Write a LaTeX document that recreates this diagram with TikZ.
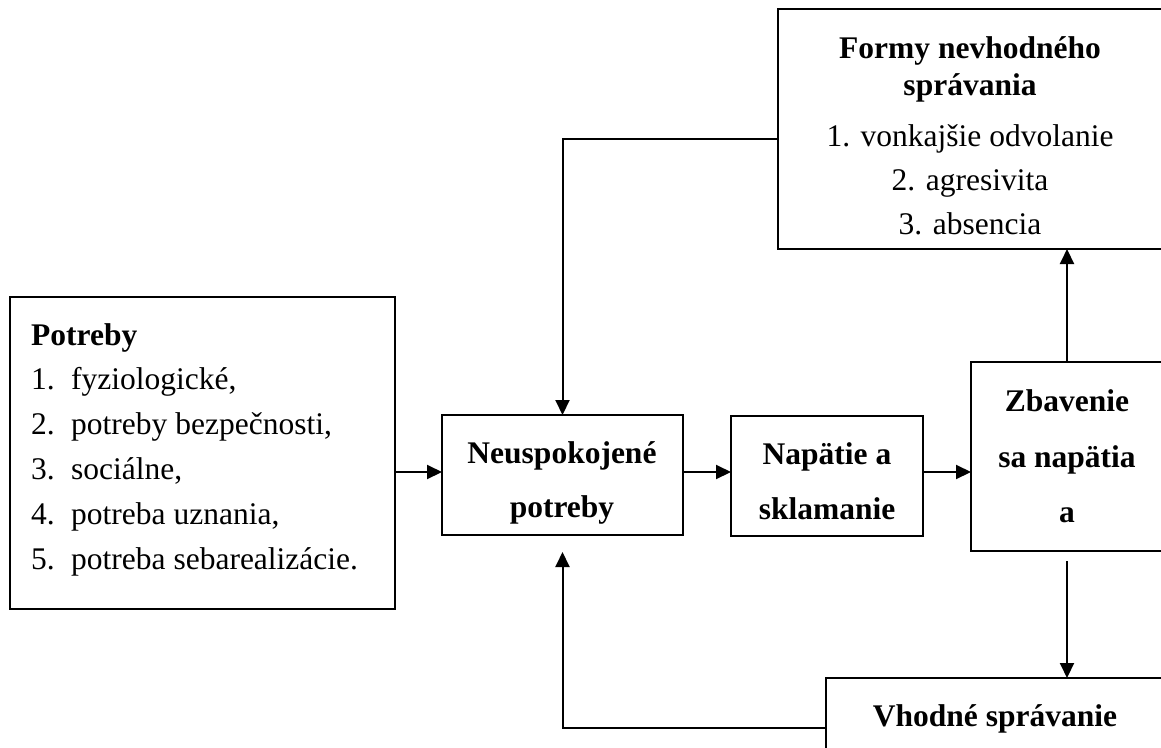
\documentclass[tikz,border=0pt]{standalone}
\usepackage{fontspec}
\setmainfont{Liberation Serif}
\usetikzlibrary{arrows.meta}
\begin{document}
\begin{tikzpicture}[x=1pt,y=-1pt,
  box/.style={draw, line width=2pt, anchor=north west, inner sep=0pt, outer sep=0pt},
  lbl/.style={anchor=base, inner sep=0pt, font=\fontsize{31.5}{38}\selectfont},
  hd/.style={anchor=base, inner sep=0pt, font=\fontsize{31.5}{38}\selectfont\bfseries},
  arr/.style={line width=2pt, -{Triangle[length=15pt,width=14pt]}}]
\useasboundingbox (0,0) rectangle (1161,747);
\clip (0,0) rectangle (1161,747);

% boxes
\node[box, minimum width=385pt, minimum height=312pt] (pot)   at (10,297)  {};
\node[box, minimum width=241pt, minimum height=120pt] (neusp) at (442,415) {};
\node[box, minimum width=192pt, minimum height=120pt] (nap)   at (731,416) {};
\node[box, minimum width=192pt, minimum height=189pt] (zb)    at (971,362) {};
\node[box, minimum width=420pt, minimum height=240pt] (formy) at (778,9)   {};
\node[box, minimum width=360pt, minimum height=120pt] (vh)    at (826,678) {};

% needs
\node[hd, anchor=base west] (pothd) at (31,345) {Potreby};
\foreach \i/\t/\y in {1/{fyziologické,}/389, 2/{potreby bezpečnosti,}/434, 3/{sociálne,}/479,
                      4/{potreba uznania,}/524, 5/{potreba sebarealizácie.}/569}{
  \node[lbl, anchor=base west] (pn\i) at (31,\y) {\i.};
  \node[lbl, anchor=base west] (pt\i) at (71,\y) {\t};
}

% unmet needs
\node[hd] (neusp1) at (562,463) {Neuspokojené};
\node[hd] (neusp2) at (562,517) {potreby};

% tension
\node[hd] (nap1) at (827,464) {Napätie a};
\node[hd] (nap2) at (827,519) {sklamanie};

% relief
\node[hd] (zb1) at (1067,411) {Zbavenie};
\node[hd] (zb2) at (1067,467) {sa napätia};
\node[hd] (zb3) at (1067,522) {a};

% inappropriate behaviour
\node[hd]  (fo1) at (970,58)  {Formy nevhodného};
\node[hd]  (fo2) at (970,95)  {správania};
\node[lbl] (fo3) at (970,146) {1. vonkajšie odvolanie};
\node[lbl] (fo4) at (970,190) {2. agresivita};
\node[lbl] (fo5) at (970,234) {3. absencia};

% appropriate behaviour
\node[hd] (vh1) at (995,726) {Vhodné správanie};

% connectors
\coordinate (row) at (0,472);
\draw[arr] (pot.east |- row) -- (neusp.west |- row);
\draw[arr] (neusp.east |- row) -- (nap.west |- row);
\draw[arr] (nap.east |- row) -- (zb.west |- row);
\draw[arr] (zb.north) -- (zb.north |- formy.south);
\draw[arr, shorten <=10pt] (zb.south) -- (zb.south |- vh.north);
\draw[arr] ([yshift=-10pt]formy.west) -| (neusp.north);
\draw[arr, shorten >=17pt] ([yshift=10pt]vh.west) -| (neusp.south);
\end{tikzpicture}
\end{document}
